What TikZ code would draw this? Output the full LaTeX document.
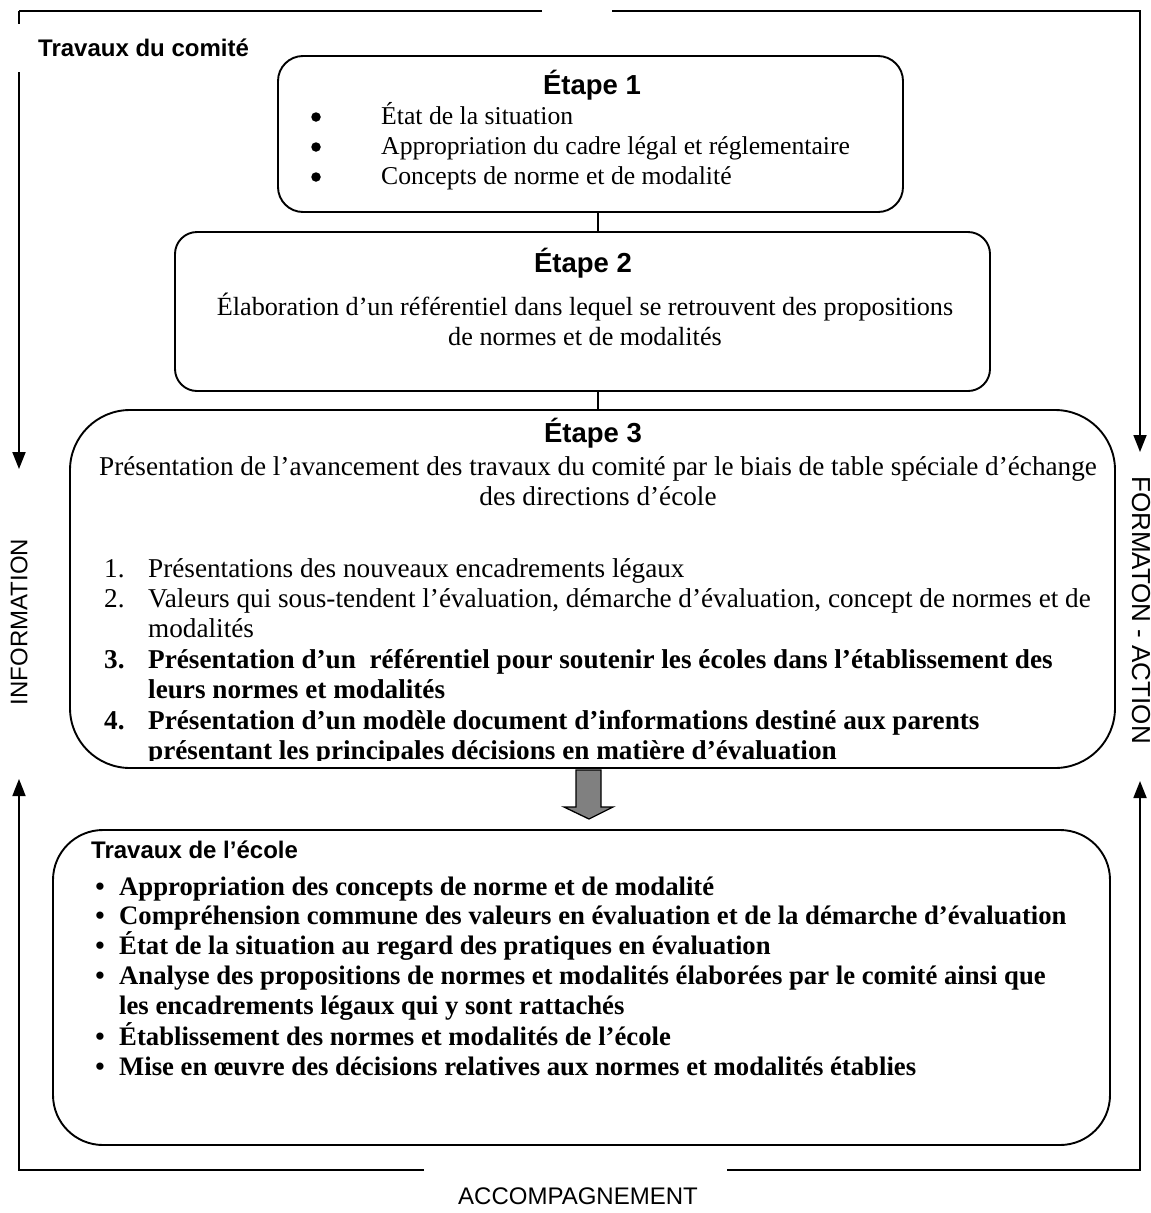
\documentclass[tikz,border=0pt]{standalone}
\usepackage{fontspec}
\setmainfont{Liberation Serif}
\newfontfamily\arial{Liberation Sans}
\usetikzlibrary{arrows.meta,calc}
\begin{document}
\begin{tikzpicture}[x=1pt,y=-1pt,
  box/.style={draw, line width=1.9pt, rounded corners=#1, inner sep=0pt},
  body/.style={font=\fontsize{26}{30}\selectfont, inner sep=0pt},
  tbody/.style={font=\fontsize{27.2}{30}\selectfont, inner sep=0pt},
  tbbody/.style={font=\bfseries\fontsize{27.2}{30}\selectfont, inner sep=0pt},
  bbody/.style={font=\bfseries\fontsize{26.7}{30}\selectfont, inner sep=0pt},
  head/.style={font=\arial\bfseries\fontsize{27.5}{30}\selectfont, inner sep=0pt},
  lab/.style={font=\arial\bfseries\fontsize{24}{28}\selectfont, inner sep=0pt},
  side/.style={font=\arial\fontsize{24}{28}\selectfont, inner sep=0pt},
  dot/.style={circle, fill, inner sep=0pt, minimum size=9.5pt},
  frame/.style={line width=1.8pt},
  tip/.style={-{Triangle[length=17pt,width=13pt]}},
  link/.style={line width=1.3pt}]
\useasboundingbox (0,0) rectangle (1151,1213);

% ---- outer frame ----
\coordinate (tl) at (19,11);
\coordinate (tr) at (1140,11);
\coordinate (bl) at (19,1170);
\coordinate (br) at (1140,1170);
\draw[frame] (542,11) -- (tl);
\draw[frame,tip] (tl) -- (19,469);
\draw[frame,tip] (612,11) -- (tr) -- (1140,452);
\draw[frame,tip] (424,1170) -- (bl) -- (19,779);
\draw[frame,tip] (727,1170) -- (br) -- (1140,781);
\node[fill=white, anchor=west, inner xsep=0pt, inner ysep=15pt] (comite) at (14,48) {\hspace{24pt}\arial\bfseries\fontsize{24}{28}\selectfont Travaux du comité};
\node[side, rotate=90] (info) at (19,622) {INFORMATION};
\node[side, rotate=-90, font=\arial\fontsize{26}{28}\selectfont] (form) at (1141,610) {FORMATON - ACTION};
\node[side] (acc) at (578,1196) {ACCOMPAGNEMENT};

% ---- boxes ----
\node[box=25pt, minimum width=625pt, minimum height=156pt] (e1) at (590.5,134) {};
\node[box=22pt, minimum width=815pt, minimum height=159pt] (e2) at (582.5,311.5) {};
\node[box=60pt, minimum width=1045pt, minimum height=358pt] (e3) at (592.5,589) {};
\node[box=50pt, minimum width=1057pt, minimum height=315pt] (ec) at (581.5,987.5) {};

\coordinate (cx) at (598,0);
\draw[link] (e1.south -| cx) -- (e2.north -| cx);
\draw[link] (e2.south -| cx) -- (e3.north -| cx);

% gray arrow
\draw[line width=1.3pt, fill=gray] (576,770) -- (601,770) -- (601,807) -- (613,807) -- (589,819) -- (564,807) -- (576,807) -- cycle;

% ---- Etape 1 ----
\node[head] (e1h) at (592,85) {Étape 1};
\node[dot] (e1b1) at (316,117) {};
\node[dot] (e1b2) at (316,147) {};
\node[dot] (e1b3) at (316,177) {};
\node[body, anchor=base west, font=\fontsize{25.7}{30}\selectfont] (e1t1) at (381,124) {État de la situation};
\node[body, anchor=base west, font=\fontsize{25.7}{30}\selectfont] (e1t2) at (381,154) {Appropriation du cadre légal et réglementaire};
\node[body, anchor=base west, font=\fontsize{25.7}{30}\selectfont] (e1t3) at (381,184) {Concepts de norme et de modalité};

% ---- Etape 2 ----
\node[head] (e2h) at (583,263) {Étape 2};
\node[body, anchor=base, font=\fontsize{26.2}{30}\selectfont] (e2t1) at (585,315) {Élaboration d’un référentiel dans lequel se retrouvent des propositions};
\node[body, anchor=base, font=\fontsize{26.2}{30}\selectfont] (e2t2) at (585,345) {de normes et de modalités};

% ---- Etape 3 ----
\node[head] (e3h) at (593,433) {Étape 3};
\node[tbody, anchor=base] (e3t1) at (598,475) {Présentation de l’avancement des travaux du comité par le biais de table spéciale d’échange};
\node[tbody, anchor=base] (e3t2) at (598,505) {des directions d’école};
\node[tbody, anchor=base west] (n1) at (104,577) {1.};
\node[tbody, anchor=base west] (i1) at (148,577) {Présentations des nouveaux encadrements légaux};
\node[tbody, anchor=base west] (n2) at (104,607) {2.};
\node[tbody, anchor=base west] (i2a) at (148,607) {Valeurs qui sous-tendent l’évaluation, démarche d’évaluation, concept de normes et de};
\node[tbody, anchor=base west] (i2b) at (148,637) {modalités};
\node[tbbody, anchor=base west] (n3) at (104,668) {3.};
\node[tbbody, anchor=base west] (i3a) at (148,668) {Présentation d’un~ référentiel pour soutenir les écoles dans l’établissement des};
\node[tbbody, anchor=base west] (i3b) at (148,698) {leurs normes et modalités};
\node[tbbody, anchor=base west] (n4) at (104,729) {4.};
\node[tbbody, anchor=base west] (i4a) at (148,729) {Présentation d’un modèle document d’informations destiné aux parents};
\begin{scope}
\clip (0,0) rectangle (1151,760);
\node[tbbody, anchor=base west] (i4b) at (148,759) {présentant les principales décisions en matière d’évaluation};
\end{scope}

% ---- Travaux de l'ecole ----
\node[lab, anchor=west] (ech) at (91,850) {Travaux de l’école};
\foreach \y/\n in {895/1,924/2,954/3,984/4,1045/5,1075/6}{
  \node[bbody, anchor=base] (eb\n) at (100,\y) {\textbullet};
}
\node[bbody, anchor=base west] (et1) at (119,895) {Appropriation des concepts de norme et de modalité};
\node[bbody, anchor=base west] (et2) at (119,924) {Compréhension commune des valeurs en évaluation et de la démarche d’évaluation};
\node[bbody, anchor=base west] (et3) at (119,954) {État de la situation au regard des pratiques en évaluation};
\node[bbody, anchor=base west] (et4a) at (119,984) {Analyse des propositions de normes et modalités élaborées par le comité ainsi que};
\node[bbody, anchor=base west] (et4b) at (119,1014) {les encadrements légaux qui y sont rattachés};
\node[bbody, anchor=base west] (et5) at (119,1045) {Établissement des normes et modalités de l’école};
\node[bbody, anchor=base west] (et6) at (119,1075) {Mise en œuvre des décisions relatives aux normes et modalités établies};
\end{tikzpicture}
\end{document}
